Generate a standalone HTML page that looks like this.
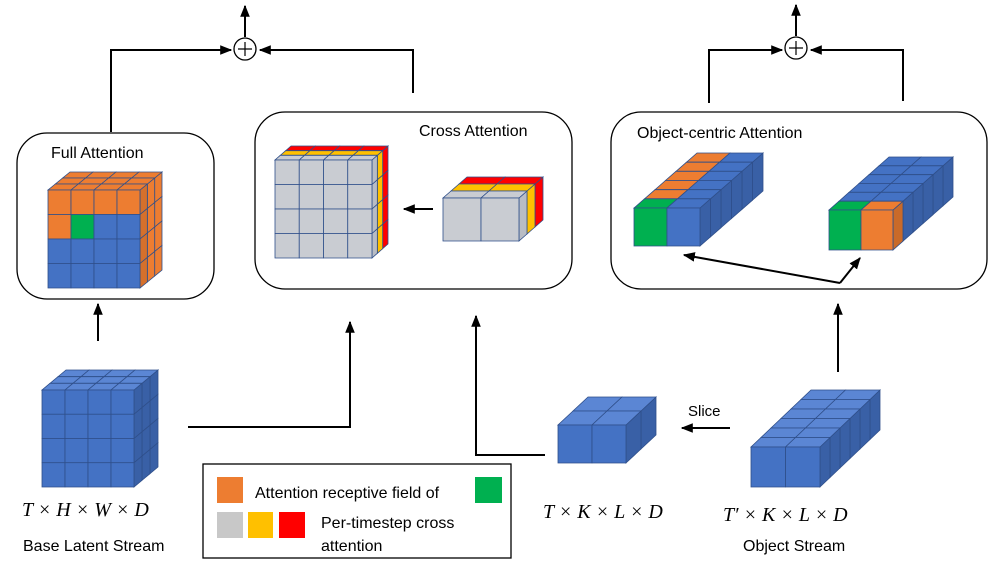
<!DOCTYPE html>
<html><head><meta charset="utf-8"><style>
html,body{margin:0;padding:0;background:#fff}
svg{display:block}
text{font-family:"Liberation Sans",sans-serif;fill:#000}
.m{font-family:"Liberation Serif",serif;font-style:italic;font-size:20px}
</style></head><body>
<svg id="s" width="1005" height="564" viewBox="0 0 1005 564" xmlns="http://www.w3.org/2000/svg">
<defs><marker id="a" viewBox="0 0 10 10" refX="9" refY="5" markerWidth="6" markerHeight="6" orient="auto"><path d="M0,1 L10,5 L0,9 z" fill="#000"/></marker></defs>
<g fill="none" stroke="#000" stroke-width="2">
<circle cx="245" cy="49" r="11" stroke-width="1.3"/><path d="M238,49h14M245,42v14" stroke-width="1.2"/>
<circle cx="796" cy="48" r="11" stroke-width="1.3"/><path d="M789,48h14M796,41v14" stroke-width="1.2"/>
<path d="M245,37V6" marker-end="url(#a)"/><path d="M796,36V5" marker-end="url(#a)"/>
<path d="M111,132V50H231" marker-end="url(#a)"/><path d="M413,93V50H260" marker-end="url(#a)"/>
<path d="M709,103V50H782" marker-end="url(#a)"/><path d="M903,101V50H811" marker-end="url(#a)"/>
<rect x="17" y="133" width="197" height="166" rx="30" stroke-width="1.3"/>
<rect x="255" y="112" width="317" height="177" rx="30" stroke-width="1.3"/>
<rect x="611" y="112" width="376" height="177" rx="30" stroke-width="1.3"/>
<path d="M98,341V304" marker-end="url(#a)"/>
<path d="M188,427H350V322" marker-end="url(#a)"/>
<path d="M545,455H476V316" marker-end="url(#a)"/>
<path d="M730,428H682" marker-end="url(#a)"/>
<path d="M838,372V304" marker-end="url(#a)"/>
<path d="M433,209H404" marker-end="url(#a)"/>
<path d="M840,283L684,255" marker-end="url(#a)"/><path d="M840,283L860,258" marker-end="url(#a)"/>
<rect x="203" y="464" width="308" height="94" stroke-width="1.3"/>
</g>
<g id="cubes"></g>
<rect x="217" y="477" width="26" height="26" fill="#ed7d31"/>
<rect x="475" y="477" width="27" height="26" fill="#00b050"/>
<rect x="217" y="512" width="26" height="26" fill="#c8c8c8"/>
<rect x="248" y="512" width="25" height="26" fill="#ffc000"/>
<rect x="279" y="512" width="26" height="26" fill="#ff0000"/>
<text x="255" y="498" font-size="16">Attention receptive field of</text>
<text x="321" y="528" font-size="16">Per-timestep cross</text>
<text x="321" y="551" font-size="16">attention</text>
<text x="51" y="158" font-size="16">Full Attention</text>
<text x="419" y="136" font-size="16">Cross Attention</text>
<text x="637" y="138" font-size="16">Object-centric Attention</text>
<text x="688" y="416" font-size="15">Slice</text>
<text x="23" y="551" font-size="16">Base Latent Stream</text>
<text x="743" y="551" font-size="16">Object Stream</text>
<text x="22" y="516" class="m">T × H × W × D</text>
<text x="543" y="518" class="m">T × K × L × D</text>
<text x="723" y="521" class="m" font-size="22">T′ × K × L × D</text>
</svg>
<script>
var g=document.getElementById('cubes'),NS='http://www.w3.org/2000/svg';
function poly(pts,f){var p=document.createElementNS(NS,'polygon');p.setAttribute('points',pts.map(function(q){return q[0]+','+q[1]}).join(' '));p.setAttribute('fill',f);p.setAttribute('stroke','#2f4f8a');p.setAttribute('stroke-width','0.8');g.appendChild(p);}
function dark(c,k){var n=parseInt(c.slice(1),16);var r=(n>>16)*k|0,gg=((n>>8)&255)*k|0,b=(n&255)*k|0;return 'rgb('+r+','+gg+','+b+')';}
function cube(x,y,w,h,cols,rows,dx,dy,nd,fc,tc,sc){
 var cw=w/cols,ch=h/rows,ex=dx/nd,ey=dy/nd;
 for(var d=nd-1;d>=0;d--)for(var r=0;r<rows;r++){var X=x+w+d*ex,Y=y+r*ch-d*ey;poly([[X,Y],[X+ex,Y-ey],[X+ex,Y+ch-ey],[X,Y+ch]],sc(d,r));}
 for(var d=nd-1;d>=0;d--)for(var c=0;c<cols;c++){var X=x+c*cw+d*ex,Y=y-d*ey;poly([[X,Y],[X+cw,Y],[X+cw+ex,Y-ey],[X+ex,Y-ey]],tc(c,d));}
 for(var r=0;r<rows;r++)for(var c=0;c<cols;c++){poly([[x+c*cw,y+r*ch],[x+c*cw+cw,y+r*ch],[x+c*cw+cw,y+r*ch+ch],[x+c*cw,y+r*ch+ch]],fc(c,r));}
}
var B='#4472c4',O='#ed7d31',G='#00b050',GR='#c9ccd2',Y='#ffc000',R='#ff0000';
cube(42,390,92,97,4,4,24,20,3,function(){return B},function(){return '#5b86d4'},function(){return dark(B,0.85)});
cube(48,190,92,98,4,4,22,18,3,function(c,r){if(r==0)return O;if(r==1&&c==0)return O;if(r==1&&c==1)return G;return B},function(){return O},function(d,r){return d==0?dark(O,0.9):O});
cube(275,160,97,98,4,4,16,14,3,function(){return GR},function(c,d){return d==0?GR:(d==1?Y:R)},function(d,r){return d==0?'#b8bcc4':(d==1?Y:R)});
cube(443,198,76,43,2,1,24,21,3,function(){return GR},function(c,d){return d==0?GR:(d==1?Y:R)},function(d){return d==0?'#b8bcc4':(d==1?Y:R)});
cube(634,208,66,38,2,1,63,55,6,function(c){return c==0?G:B},function(c,d){return d==0?(c==0?G:B):(c==0?O:B)},function(){return dark(B,0.85)});
cube(829,210,64,40,2,1,60,53,6,function(c){return c==0?G:O},function(c,d){return d==0?(c==0?G:O):B},function(d){return d==0?dark(O,0.85):dark(B,0.85)});
cube(558,425,68,38,2,1,30,28,2,function(){return B},function(){return '#5b86d4'},function(){return dark(B,0.85)});
cube(751,447,69,40,2,1,60,57,6,function(){return B},function(){return '#5b86d4'},function(){return dark(B,0.85)});
</script>
</body></html>
